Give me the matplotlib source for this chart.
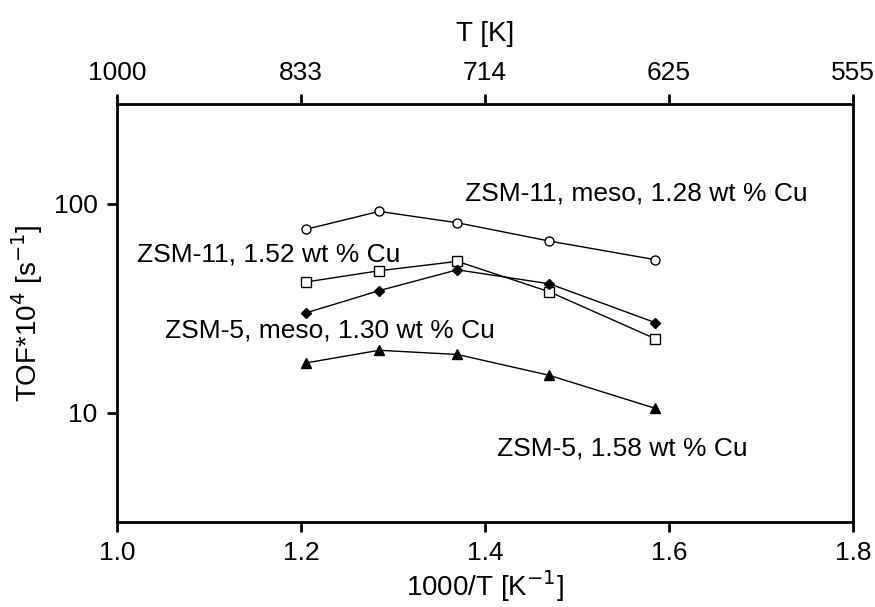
import matplotlib

matplotlib.use("Agg")
import matplotlib.pyplot as plt  # noqa: E402

plt.rcParams["font.family"] = ["Liberation Sans", "DejaVu Sans"]

# 1000/T positions
INV_T = [1.205, 1.285, 1.37, 1.47, 1.585]

TOF_ZSM11_MESO = [75.4, 91.9, 81.1, 66.3, 54.0]
TOF_ZSM11 = [42.2, 47.8, 53.0, 37.9, 22.6]
TOF_ZSM5_MESO = [30.0, 38.4, 48.3, 41.4, 27.0]
TOF_ZSM5 = [17.3, 19.9, 19.0, 15.1, 10.5]

LABELS = [
    "ZSM-11, meso, 1.28 wt % Cu",
    "ZSM-11, 1.52 wt % Cu",
    "ZSM-5, meso, 1.30 wt % Cu",
    "ZSM-5, 1.58 wt % Cu",
]

BOTTOM_TICKS = [1.0, 1.2, 1.4, 1.6, 1.8]
TOP_TICK_LABELS = ["1000", "833", "714", "625", "555"]

fig = plt.figure(figsize=(8.75, 6.07), dpi=100)
ax = fig.add_axes([0.1337, 0.1400, 0.8411, 0.6886])

styles = [
    dict(marker="o", mfc="white", ms=6.5),
    dict(marker="s", mfc="white", ms=6.5),
    dict(marker="D", mfc="black", ms=5.5),
    dict(marker="^", mfc="black", ms=7),
]
series = [TOF_ZSM11_MESO, TOF_ZSM11, TOF_ZSM5_MESO, TOF_ZSM5]
for vals, st in zip(series, styles):
    ax.plot(INV_T, vals, color="black", lw=1.0, mec="black", mew=1.0, **st)

ax.set_yscale("log")
ax.set_xlim(1.0, 1.8)
ax.set_ylim(3, 300)
ax.set_xticks(BOTTOM_TICKS)
ax.set_xticklabels([f"{v:.1f}" for v in BOTTOM_TICKS])
ax.set_yticks([10, 100])
ax.set_yticklabels(["10", "100"])
ax.yaxis.set_minor_locator(matplotlib.ticker.NullLocator())

for sp in ax.spines.values():
    sp.set_linewidth(2)
ax.tick_params(width=2, length=7, labelsize=19, pad=7)

ax.set_xlabel("1000/T [K$^{-1}$]", fontsize=20, labelpad=2)
ax.set_ylabel("TOF*10$^{4}$ [s$^{-1}$]", fontsize=20, labelpad=6)

top = ax.secondary_xaxis("top")
top.set_xticks(BOTTOM_TICKS)
top.set_xticklabels(TOP_TICK_LABELS)
top.tick_params(width=2, length=7, labelsize=19, pad=7)
top.set_xlabel("T [K]", fontsize=20, labelpad=14)

pos = [(0.473, 0.787), (0.027, 0.639), (0.065, 0.459), (0.516, 0.177)]
for (x, y), txt in zip(pos, LABELS):
    ax.text(x, y, txt, transform=ax.transAxes, fontsize=19, ha="left", va="center")

fig.savefig("out.png", dpi=100)
